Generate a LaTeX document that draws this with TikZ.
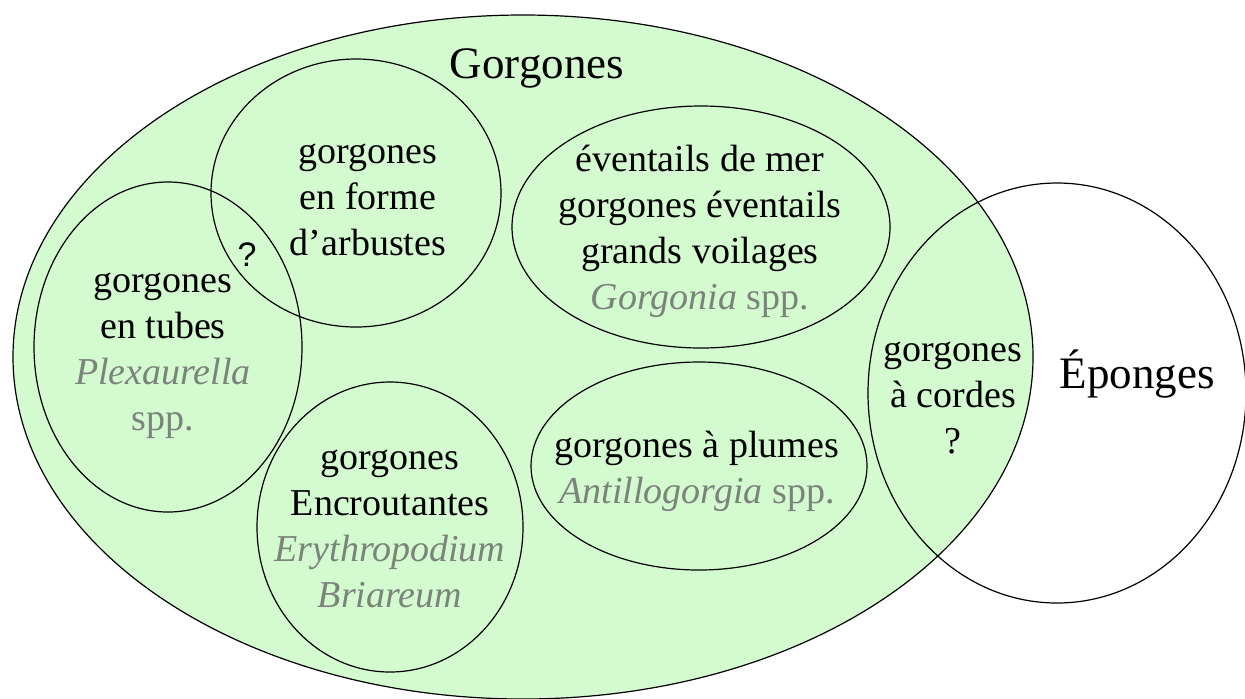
\documentclass[tikz,border=0pt]{standalone}
\usepackage{fontspec}
\setmainfont{Liberation Serif}
\newfontfamily\qsans{Liberation Sans}
\usetikzlibrary{shapes.geometric}
\definecolor{gfill}{RGB}{212,250,208}
\definecolor{tgray}{RGB}{122,132,122}
\newcommand\taxon[1]{\textcolor{tgray}{#1}}
\tikzset{el/.style={draw,ellipse,inner sep=0pt,line width=0.6pt},
 lbl/.style={align=center,anchor=base,inner sep=0pt,font=\fontsize{19}{23}\selectfont},
 ttl/.style={lbl,font=\fontsize{22.5}{27}\selectfont}}
\begin{document}
\begin{tikzpicture}[x=0.5pt,y=-0.5pt]
\useasboundingbox (0,0) rectangle (1245,698);
\node[el,fill=gfill,minimum width=510pt,minimum height=342pt](gor) at (523,357){};
\node[el,minimum width=189pt,minimum height=210pt](epo) at (1057,393){};
\node[el,minimum width=145pt,minimum height=134pt](arb) at (356,193){};
\node[el,minimum width=134pt,minimum height=165pt](tub) at (168,347){};
\node[el,minimum width=189pt,minimum height=121pt](eve) at (701,227){};
\node[el,minimum width=133pt,minimum height=145pt](enc) at (390,527){};
\node[el,minimum width=168pt,minimum height=104pt](plu) at (699,466){};
\node[ttl](gort) at (537,78){Gorgones};
\node[ttl](epot) at (1137,388){Éponges};
\node[lbl](arbt) at (368,255){gorgones\\en forme\\d’arbustes};
\node[lbl](tubt) at (163,430){gorgones\\en tubes\\\taxon{\textit{Plexaurella}}\\\taxon{spp.}};
\node[lbl,font=\qsans\fontsize{17}{20}\selectfont](tubq) at (247,266){?};
\node[lbl](evet) at (700,309){éventails de mer\\gorgones éventails\\grands voilages\\\taxon{\textit{Gorgonia} spp.}};
\node[lbl](enct) at (390,607){gorgones\\Encroutantes\\\taxon{\textit{Erythropodium}}\\\taxon{\textit{Briareum}}};
\node[lbl](plut) at (697,503){gorgones à plumes\\\taxon{\textit{Antillogorgia} spp.}};
\node[lbl](cort) at (953,453){gorgones\\à cordes\\?};
\end{tikzpicture}
\end{document}
